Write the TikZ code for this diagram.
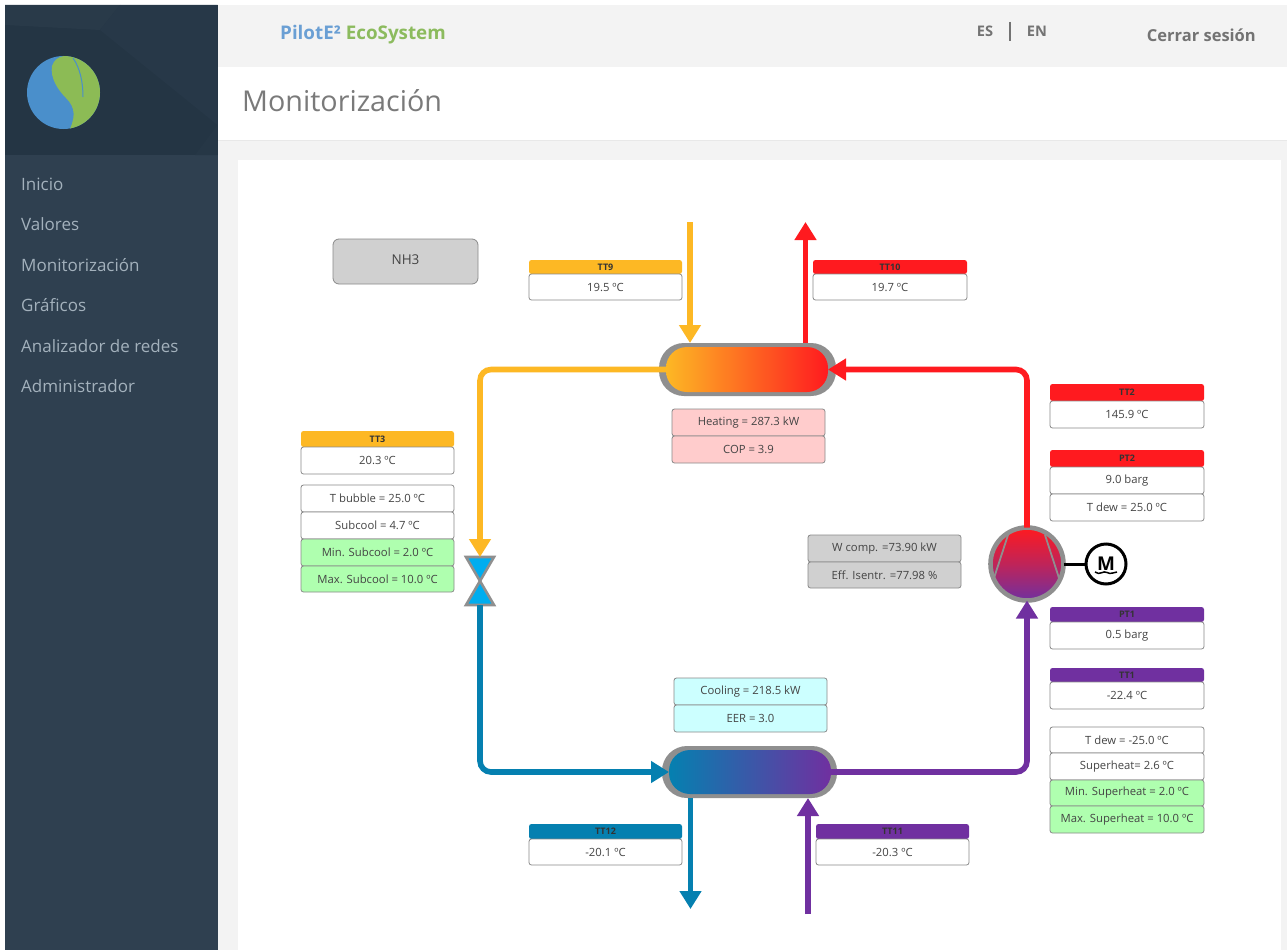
\documentclass[tikz,border=0pt]{standalone}
\usepackage{fontspec}
\setmainfont{Open Sans}
\usetikzlibrary{arrows.meta,calc}
\definecolor{side}{HTML}{2F4050}
\definecolor{sidedk}{HTML}{243544}
\definecolor{menu}{HTML}{A3B1BC}
\definecolor{pagegray}{HTML}{F3F3F3}
\definecolor{yel}{HTML}{FDB824}
\definecolor{rd}{HTML}{FF1A1F}
\definecolor{prp}{HTML}{7030A0}
\definecolor{blu}{HTML}{0580B0}
\definecolor{ring}{HTML}{8F8F8F}
\definecolor{edge}{HTML}{8A8A8A}
\definecolor{txt}{HTML}{444444}
\definecolor{limeb}{HTML}{AFFFAF}
\definecolor{pinkf}{HTML}{FFCCCC}
\definecolor{cyanf}{HTML}{CCFFFF}
\definecolor{grayf}{HTML}{D0D0D0}
\definecolor{valveb}{HTML}{00ADEF}
\definecolor{leaf}{HTML}{8CBB55}
\definecolor{ball}{HTML}{4A8FCB}
\tikzset{
  x=1pt,y=-1pt,
  fs/.style={font=\fontsize{#1}{#1}\selectfont},
  boxbase/.style={draw=edge,line width=0.8pt,rounded corners=2.5pt,inner sep=0pt,outer sep=0pt,text=txt,fs=11.3},
  valb/.style={boxbase,fill=white},
  greenb/.style={boxbase,fill=limeb},
  pinkb/.style={boxbase,fill=pinkf},
  cyanb/.style={boxbase,fill=cyanf},
  grayb/.style={boxbase,fill=grayf},
  hdr/.style={rounded corners=2.5pt,fill=#1,inner sep=0pt,outer sep=0pt,text=black!80,font=\fontsize{9}{9}\selectfont\bfseries},
  menuitem/.style={anchor=west,inner sep=0pt,text=menu,fs=17},
  pipe/.style={draw=#1,line width=5.6pt,rounded corners=11pt},
  tip/.style={-{Triangle[length=18pt,width=21pt]}},
  shell/.style={fill=ring,rounded corners=25pt,inner sep=0pt,outer sep=0pt},
  core/.style={rounded corners=21pt,inner sep=0pt,outer sep=0pt},
  valvetri/.style={fill=valveb,draw=ring,line width=2.6pt,line join=miter},
}
\newcommand{\vb}[7]{\node[#6,minimum width={#4-#2},minimum height={#5-#3}] (#1) at ({(#2+#4)/2},{(#3+#5)/2}) {#7};}
\begin{document}
\begin{tikzpicture}
\path[use as bounding box,fill=white] (0,0) rectangle (1287,950);
% page
\fill[pagegray] (218,5) rectangle (1287,950);
\fill[white] (218,67) rectangle (1287,140);
\draw[black!9,line width=0.8pt] (218,140.5) -- (1287,140.5);
\fill[white] (238,160) rectangle (1281,950);
% sidebar
\fill[side] (5,5) rectangle (217.5,950);
\fill[sidedk] (5,5) rectangle (217.5,155);
\fill[side!45!sidedk] (5,5) -- (120,5) -- (100,30) -- (5,25) -- cycle;
\fill[side!30!sidedk] (120,5) -- (217.5,5) -- (217.5,125) -- (100,30) -- cycle;
\fill[side!20!sidedk] (195,155) -- (217.5,125) -- (217.5,155) -- cycle;
% logo
\fill[ball] (63.5,92.5) circle (36.5);
\begin{scope}
\clip (63.5,92.5) circle (36.5);
\fill[leaf] (52,66) .. controls (54,60) and (58,57) .. (64,56) -- (110,56) -- (110,135) -- (67,135)
  .. controls (76,118) and (76,108) .. (66,98) .. controls (58,90) and (50,78) .. (52,66) -- cycle;
\end{scope}
\draw[ball,line width=1pt] (73,58) .. controls (80,68) and (83,82) .. (83,97);
% header
\node[anchor=west,inner sep=0pt,font=\fontsize{18.8}{20}\selectfont\bfseries] (brand) at (280,34.5)
  {\textcolor[HTML]{6A9FD4}{PilotE²} \textcolor[HTML]{8CBB5E}{EcoSystem}};
\node[anchor=center,inner sep=0pt,text=black!55,font=\fontsize{14.6}{14}\selectfont\bfseries] (langes) at (985,31) {ES};
\draw[black!55,line width=1.4pt] (1010,22) -- (1010,41);
\node[anchor=center,inner sep=0pt,text=black!55,font=\fontsize{14.6}{14}\selectfont\bfseries] (langen) at (1037,31) {EN};
\node[anchor=east,inner sep=0pt,text=black!55,font=\fontsize{16.5}{17}\selectfont\bfseries] (logout) at (1256,35) {Cerrar sesión};
\node[anchor=west,inner sep=0pt,text=black!52,fs=28.7] (title) at (242,101) {Monitorización};
% menu
\node[menuitem] (m1) at (21,184) {Inicio};
\node[menuitem] (m2) at (21,224) {Valores};
\node[menuitem] (m3) at (21,265) {Monitorización};
\node[menuitem] (m4) at (21,305) {Gráficos};
\node[menuitem] (m5) at (21,346) {Analizador de redes};
\node[menuitem] (m6) at (21,386) {Administrador};
% equipment
\node[shell,minimum width=177,minimum height=53] (condout) at (747.5,369.5) {};
\node[core,left color=yel,right color=rd,minimum width=162,minimum height=45] (cond) at (747,369.5) {};
\node[shell,minimum width=175,minimum height=52] (evapout) at (749.5,772) {};
\node[core,left color=blu,right color=prp,minimum width=162,minimum height=44] (evap) at (750,772) {};
\node[circle,draw=ring,line width=4.6pt,top color=rd,bottom color=prp,middle color=rd!55!prp,minimum size=73,inner sep=0pt,outer sep=0pt] (comp) at (1027,564) {};
\draw[ring,line width=1.8pt] (1008,535) -- (994,578);
\draw[ring,line width=1.8pt] (1045,535) -- (1059,578);
\node[circle,draw=black,line width=3pt,fill=white,minimum size=40,inner sep=0pt,outer sep=0pt,font=\fontsize{19}{19}\selectfont\bfseries] (motor) at (1106,564) {\raisebox{1pt}{M}};
\draw[black,line width=1.5pt] (1095,572) .. controls (1100,576) and (1103,570) .. (1107,572.5) .. controls (1110,574.5) and (1114,572.5) .. (1117,572);
\draw[black,line width=3pt] (comp.east) -- (motor.west);
% valve
\node[minimum width=28,minimum height=48,inner sep=0pt,outer sep=0pt] (valve) at (480,581) {};
\draw[valvetri] (valve.north west) -- (valve.north east) -- (valve.center) -- cycle;
\draw[valvetri] (valve.south west) -- (valve.south east) -- (valve.center) -- cycle;
% free ends
\coordinate (in9) at (690,222);
\coordinate (out10) at (805.5,222);
\coordinate (out12) at (690.5,909);
\coordinate (in11) at (808,914);
% connectors
\draw[pipe=yel,tip] (in9) -- (in9 |- condout.north);
\draw[pipe=rd,tip] (out10 |- condout.north) -- (out10);
\draw[pipe=blu,tip] (out12 |- evapout.south) -- (out12);
\draw[pipe=prp,tip] (in11) -- (in11 |- evapout.south);
\draw[pipe=yel,tip] (cond.west) -| (valve.north);
\draw[pipe=rd,tip] (comp.north) |- (cond.east);
\draw[pipe=blu,tip] (valve.south) |- (evap.west);
\draw[pipe=prp,tip] (evap.east) -| (comp.south);
% boxes
\vb{nh}{333}{239}{478}{284}{boxbase,fill=grayf,rounded corners=6pt,fs=13.5}{\raisebox{3pt}{NH3}}
\vb{h9}{529}{260}{682}{274}{hdr=yel}{TT9}
\vb{v9}{529}{274}{682}{300}{valb}{19.5 ºC}
\vb{h10}{813}{260}{967}{274}{hdr=rd}{TT10}
\vb{v10}{813}{274}{967}{300}{valb}{19.7 ºC}
\vb{h3}{301}{431}{454}{447}{hdr=yel}{TT3}
\vb{v3}{301}{447}{454}{474}{valb}{20.3 ºC}
\vb{tb}{301}{485}{454}{512}{valb}{T bubble = 25.0 ºC}
\vb{sc}{301}{512}{454}{539}{valb}{Subcool = 4.7 ºC}
\vb{mnsc}{301}{539}{454}{566}{greenb}{Min. Subcool = 2.0 ºC}
\vb{mxsc}{301}{566}{454}{592}{greenb}{Max. Subcool = 10.0 ºC}
\vb{heat}{672}{409}{825}{436}{pinkb}{Heating = 287.3 kW}
\vb{cop}{672}{436}{825}{463}{pinkb}{COP = 3.9}
\vb{h2}{1050}{384}{1204}{401}{hdr=rd}{TT2}
\vb{v2}{1050}{401}{1204}{428}{valb}{145.9 ºC}
\vb{hp2}{1050}{450}{1204}{467}{hdr=rd}{PT2}
\vb{vp2}{1050}{467}{1204}{494}{valb}{9.0 barg}
\vb{td2}{1050}{494}{1204}{521}{valb}{T dew = 25.0 ºC}
\vb{wc}{808}{535}{961}{562}{grayb}{W comp. =73.90 kW}
\vb{eff}{808}{562}{961}{588}{grayb}{Eff. Isentr. =77.98 \%}
\vb{hp1}{1050}{607}{1204}{622}{hdr=prp}{PT1}
\vb{vp1}{1050}{622}{1204}{649}{valb}{0.5 barg}
\vb{h1}{1050}{668}{1204}{682}{hdr=prp}{TT1}
\vb{v1}{1050}{682}{1204}{709}{valb}{-22.4 ºC}
\vb{td1}{1050}{727}{1204}{753}{valb}{T dew = -25.0 ºC}
\vb{sh}{1050}{753}{1204}{780}{valb}{Superheat= 2.6 ºC}
\vb{mnsh}{1050}{780}{1204}{806}{greenb}{Min. Superheat = 2.0 ºC}
\vb{mxsh}{1050}{806}{1204}{833}{greenb}{Max. Superheat = 10.0 ºC}
\vb{cool}{674}{678}{827}{705}{cyanb}{Cooling = 218.5 kW}
\vb{eer}{674}{705}{827}{732}{cyanb}{EER = 3.0}
\vb{h12}{529}{824}{682}{839}{hdr=blu}{TT12}
\vb{v12}{529}{839}{682}{865}{valb}{-20.1 ºC}
\vb{h11}{816}{824}{969}{839}{hdr=prp}{TT11}
\vb{v11}{816}{839}{969}{865}{valb}{-20.3 ºC}
\end{tikzpicture}
\end{document}
